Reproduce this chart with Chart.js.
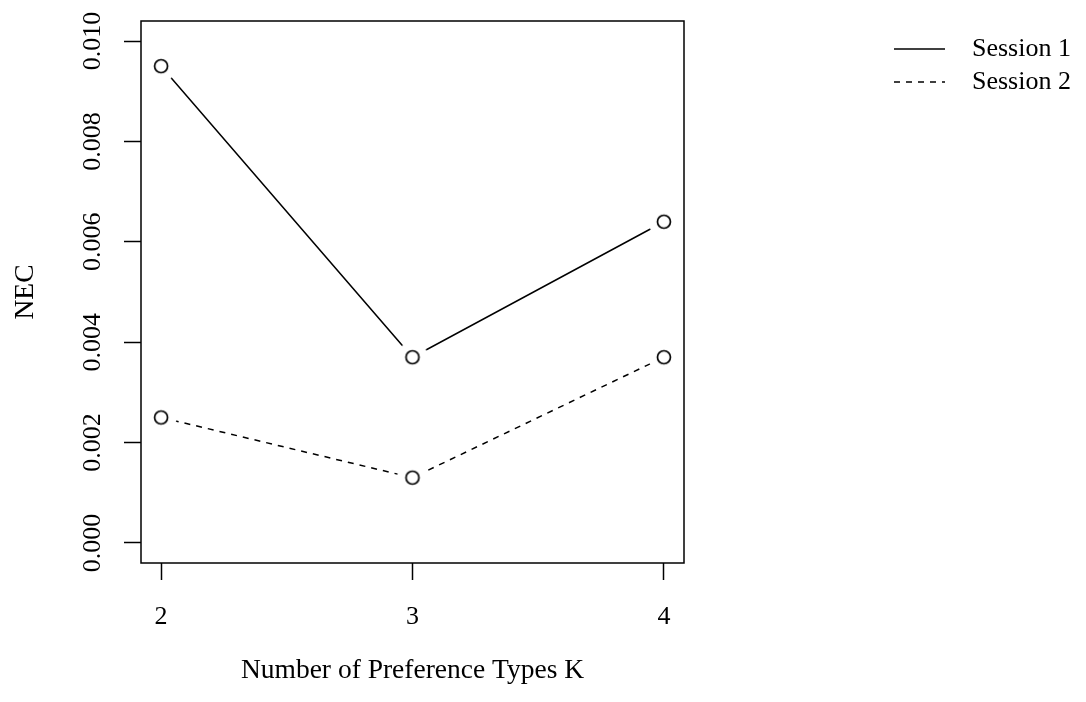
<!DOCTYPE html>
<html lang="en">
<head>
    <meta charset="UTF-8">
    <title>NEC by K</title>
    <script src="https://cdn.jsdelivr.net/npm/chart.js@4.4.1/dist/chart.umd.min.js"></script>
    <style>
        html, body { margin: 0; padding: 0; background: #fff; }
        #box { width: 1086px; height: 702px; }
    </style>
</head>
<body>
<div id="box">
    <canvas id="necChart"></canvas>
</div>

<script>
    // data
    const kValues = [2, 3, 4];
    const session1 = [0.0095, 0.0037, 0.0064];
    const session2 = [0.0025, 0.0013, 0.0037];
    const yTicks = [0, 0.002, 0.004, 0.006, 0.008, 0.010];
    const seriesNames = ['Session 1', 'Session 2'];

    Chart.defaults.font.family = '"Liberation Serif", "Times New Roman", serif';
    Chart.defaults.font.size = 26;
    Chart.defaults.color = '#000';

    // open circle with a white halo so the line stops short of the point (like R type="b")
    function makeMarker() {
        const c = document.createElement('canvas');
        c.width = 34; c.height = 34;
        const g = c.getContext('2d');
        g.fillStyle = '#fff';
        g.beginPath(); g.arc(17, 17, 15.5, 0, Math.PI * 2); g.fill();
        g.strokeStyle = '#000';
        g.lineWidth = 1.7;
        g.beginPath(); g.arc(17, 17, 6.5, 0, Math.PI * 2); g.stroke();
        return c;
    }
    const marker = makeMarker();

    const framePlugin = {
        id: 'frame',
        afterDraw(chart) {
            const a = chart.chartArea, ctx = chart.ctx;
            ctx.save();
            ctx.strokeStyle = '#000';
            ctx.lineWidth = 1.5;
            ctx.strokeRect(a.left, a.top, a.right - a.left, a.bottom - a.top);
            ctx.restore();
        }
    };

    // legend out in the right margin: line sample + label
    const sideLegend = {
        id: 'sideLegend',
        afterDraw(chart, args, opts) {
            const ctx = chart.ctx;
            ctx.save();
            ctx.font = '26px "Liberation Serif", serif';
            ctx.textBaseline = 'middle';
            ctx.textAlign = 'left';
            chart.data.datasets.forEach((ds, i) => {
                const y = opts.top + i * opts.rowGap;
                ctx.strokeStyle = ds.borderColor;
                ctx.lineWidth = ds.borderWidth;
                ctx.setLineDash(ds.borderDash || []);
                ctx.beginPath();
                ctx.moveTo(opts.lineX0, y);
                ctx.lineTo(opts.lineX1, y);
                ctx.stroke();
                ctx.setLineDash([]);
                ctx.fillStyle = '#000';
                ctx.fillText(ds.label, opts.textX, y);
            });
            ctx.restore();
        }
    };

    const ctx = document.getElementById('necChart');
    new Chart(ctx, {
        type: 'line',
        data: {
            datasets: [
                {
                    label: seriesNames[0],
                    data: kValues.map((k, i) => ({ x: k, y: session1[i] })),
                    borderColor: '#000',
                    borderWidth: 1.5,
                    pointStyle: marker,
                    tension: 0
                },
                {
                    label: seriesNames[1],
                    data: kValues.map((k, i) => ({ x: k, y: session2[i] })),
                    borderColor: '#000',
                    borderWidth: 1.5,
                    borderDash: [6, 6],
                    pointStyle: marker,
                    tension: 0
                }
            ]
        },
        options: {
            responsive: true,
            maintainAspectRatio: false,
            animation: false,
            events: [],
            layout: { padding: { top: 21, right: 402, left: 0, bottom: 0 } },
            plugins: {
                legend: { display: false },
                tooltip: { enabled: false },
                sideLegend: { top: 49, rowGap: 33, lineX0: 894, lineX1: 945, textX: 972 }
            },
            scales: {
                x: {
                    type: 'linear',
                    min: 1.92,
                    max: 4.08,
                    afterBuildTicks: s => { s.ticks = kValues.map(v => ({ value: v })); },
                    afterFit: s => { s.height = 139; s.paddingLeft = 0; s.paddingRight = 0; },
                    ticks: { padding: 22, callback: v => String(v) },
                    grid: { drawOnChartArea: false, drawTicks: true, tickLength: 17, tickColor: '#000', tickWidth: 1.5 },
                    border: { display: false },
                    title: {
                        display: true,
                        text: 'Number of Preference Types K',
                        font: { size: 27.5 },
                        padding: { top: 0, bottom: 15 }
                    }
                },
                y: {
                    type: 'linear',
                    min: -0.0004,
                    max: 0.0104,
                    afterBuildTicks: s => { s.ticks = yTicks.map(v => ({ value: v })); },
                    afterFit: s => { s.width = 141; s.paddingTop = 0; s.paddingBottom = 0; },
                    ticks: {
                        minRotation: 90,
                        maxRotation: 90,
                        autoSkip: false,
                        crossAlign: 'center',
                        padding: 2,
                        callback: v => v.toFixed(3)
                    },
                    grid: { drawOnChartArea: false, drawTicks: true, tickLength: 17, tickColor: '#000', tickWidth: 1.5 },
                    border: { display: false },
                    title: {
                        display: true,
                        text: 'NEC',
                        font: { size: 27.5 },
                        padding: { top: 9, bottom: 0 }
                    }
                }
            }
        },
        plugins: [framePlugin, sideLegend]
    });
</script>
</body>
</html>
